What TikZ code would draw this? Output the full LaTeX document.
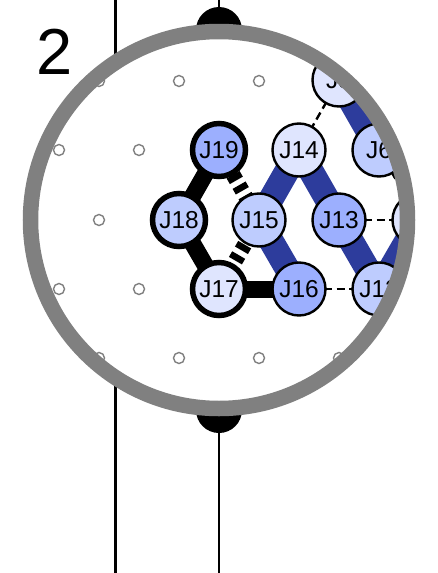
\documentclass[tikz,border=0pt]{standalone}
\usepackage{fontspec}
\setmainfont{Liberation Sans}
\tikzset{
  x=1pt,y=-1pt,
  junc/.style={circle,draw=black,line width=2.4pt,minimum size=53pt,inner sep=0pt,font=\fontsize{24.5}{25}\selectfont,text=black},
  heavy/.style={junc,line width=5.5pt,minimum size=53pt},
  pale/.style={fill=paleb},
  mid/.style={fill=midb},
  deep/.style={fill=deepb},
  hole/.style={circle,draw=ringg,line width=1.4pt,minimum size=11pt,inner sep=0pt,fill=white},
  blueedge/.style={draw=edgeb,line width=25pt},
  blackedge/.style={draw=black,line width=17pt},
  blackdash/.style={draw=black,line width=15pt,dash pattern=on 6.5pt off 5.5pt,dash phase=7.5pt},
  thindash/.style={draw=black,line width=2.4pt,dash pattern=on 8pt off 4.5pt},
  wire/.style={draw=black,line width=2.2pt},
}
\definecolor{paleb}{HTML}{DFE5FE}
\definecolor{midb}{HTML}{BECCFE}
\definecolor{deepb}{HTML}{9CAFFE}
\definecolor{edgeb}{HTML}{2D3C9C}
\definecolor{ringg}{HTML}{808080}
\begin{document}
\begin{tikzpicture}
\useasboundingbox (0,0) rectangle (438,573);
\fill[white] (0,0) rectangle (438,573);
% wires and domes
\coordinate (wa) at (115.5,0); \coordinate (wb) at (115.5,573);
\coordinate (wc) at (219,0); \coordinate (wd) at (219,573);
\draw[wire] (wa) -- (wb);
\draw[wire] (wc) -- (wd);
\fill[black] (219,30) circle (23);
\fill[black] (219,410) circle (23);
% interior of ring
\fill[white] (219,220) circle (190);
\begin{scope}
\clip (219,220) circle (190);
\foreach \n/\x/\y in {a/99/81,b/179/81,c/259/81,d/59/150,e/139/150,f/99/220,g/59/289,h/139/289,i/99/358,j/179/358,k/259/358,l/339/358}
  \node[hole] (h\n) at (\x,\y) {};
\coordinate (J19c) at (219,150);
\coordinate (J14c) at (299,150);
\coordinate (J6c) at (379,150);
\coordinate (J7c) at (339,80);
\coordinate (J18c) at (179,220);
\coordinate (J15c) at (259,220);
\coordinate (J13c) at (339,220);
\coordinate (J11c) at (419,220);
\coordinate (J17c) at (219,289);
\coordinate (J16c) at (299,289);
\coordinate (J12c) at (379,289);
\draw[blueedge] (J14c) -- (J15c);
\draw[blueedge] (J14c) -- (J13c);
\draw[blueedge] (J15c) -- (J16c);
\draw[blueedge] (J13c) -- (J12c);
\draw[blueedge] (J12c) -- (J11c);
\draw[blueedge] (J6c) -- (J7c);
\draw[thindash] (J7c) -- (J14c);
\draw[thindash] (J13c) -- (J11c);
\draw[thindash] (J16c) -- (J12c);
\draw[thindash] (J6c) -- (J11c);
\draw[blackedge] (J19c) -- (J18c);
\draw[blackedge] (J18c) -- (J17c);
\draw[blackedge] (J17c) -- (J16c);
\draw[blackdash] (J19c) -- (J15c);
\draw[blackdash] (J15c) -- (J17c);
\node[heavy,deep] (J19) at (J19c) {J19};
\node[junc,pale] (J14) at (J14c) {J14};
\node[junc,mid] (J6) at (J6c) {J6};
\node[junc,pale] (J7) at (J7c) {J5};
\node[heavy,mid] (J18) at (J18c) {J18};
\node[junc,mid] (J15) at (J15c) {J15};
\node[junc,deep] (J13) at (J13c) {J13};
\node[junc,pale] (J11) at (J11c) {J11};
\node[heavy,pale] (J17) at (J17c) {J17};
\node[junc,deep] (J16) at (J16c) {J16};
\node[junc,mid] (J12) at (J12c) {J12};
\end{scope}
\draw[ringg,line width=15.5pt] (219,220) circle (188.5);
\node[font=\fontsize{65}{65}\selectfont,text=black] (num) at (55,52) {2};
\end{tikzpicture}
\end{document}
